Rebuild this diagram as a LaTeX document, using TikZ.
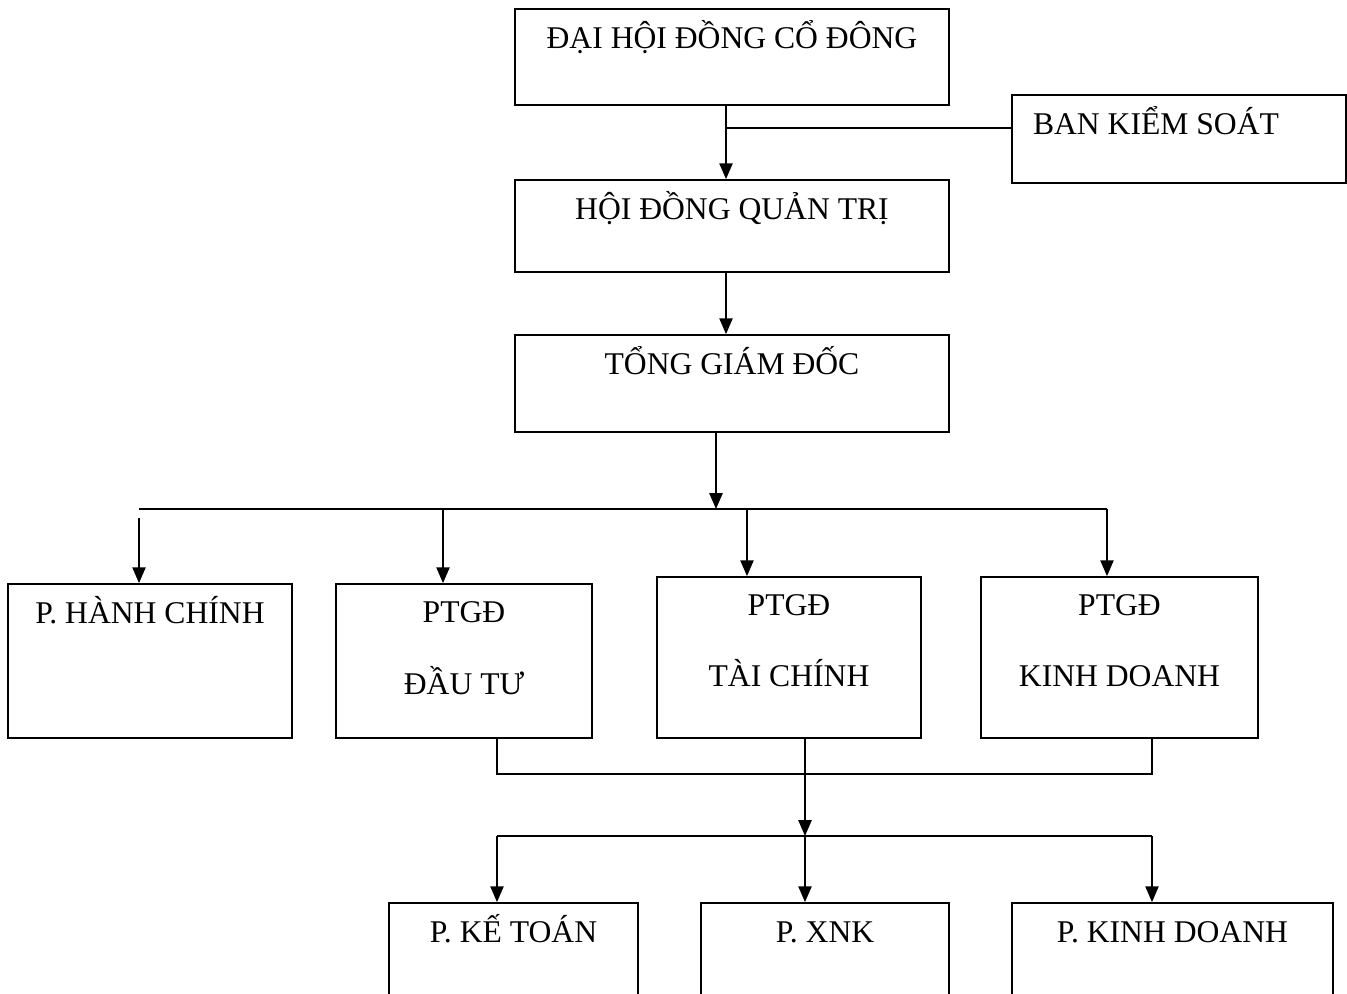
\documentclass[tikz,border=0pt]{standalone}
\usepackage{fontspec}
\setmainfont{Liberation Serif}
\usetikzlibrary{arrows.meta, calc}

\begin{document}
\begin{tikzpicture}[x=0.02cm, y=-0.02cm, line width=1pt,
    box/.style 2 args = {draw, rectangle, minimum width=#1*0.02cm, minimum height=#2*0.02cm, inner sep=0pt},
    txt/.style = {font=\fontsize{18}{22}\selectfont, inner sep=0pt, anchor=base},
    arr/.style = {-{Triangle[length=9pt, width=7.5pt]}}]
    \clip (0,0) rectangle (1347,994);

    % boxes
    \node[box={434}{96}] (dhd) at (732,57) {};
    \node[box={334}{88}] (bks) at (1179,139) {};
    \node[box={434}{92}] (hdqt) at (732,226) {};
    \node[box={434}{97}] (tgd) at (732,383.5) {};
    \node[box={284}{154}] (phc) at (150,661) {};
    \node[box={256}{154}] (ptdt) at (464,661) {};
    \node[box={264}{161}] (pttc) at (789,657.5) {};
    \node[box={277}{161}] (ptkd) at (1119.5,657.5) {};
    \node[box={249}{160}] (pkt) at (513.5,983) {};
    \node[box={248}{160}] (pxnk) at (825,983) {};
    \node[box={321}{160}] (pkd) at (1172.5,983) {};

    % texts
    \node[txt] (dhd-t) at ($(dhd.north)+(0,40)$) {ĐẠI HỘI ĐỒNG CỔ ĐÔNG};
    \node[txt, anchor=base west] (bks-t) at ($(bks.north west)+(21,40)$) {BAN KIỂM SOÁT};
    \node[txt] (hdqt-t) at ($(hdqt.north)+(0,40)$) {HỘI ĐỒNG QUẢN TRỊ};
    \node[txt] (tgd-t) at ($(tgd.north)+(0,40)$) {TỔNG GIÁM ĐỐC};
    \node[txt] (phc-t) at ($(phc.north)+(0,40)$) {P. HÀNH CHÍNH};
    \node[txt] (ptdt-t) at ($(ptdt.north)+(0,39)$) {PTGĐ};
    \node[txt] (ptdt-u) at ($(ptdt.north)+(0,111)$) {ĐẦU TƯ};
    \node[txt] (pttc-t) at ($(pttc.north)+(0,39)$) {PTGĐ};
    \node[txt] (pttc-u) at ($(pttc.north)+(0,110)$) {TÀI CHÍNH};
    \node[txt] (ptkd-t) at ($(ptkd.north)+(0,39)$) {PTGĐ};
    \node[txt] (ptkd-u) at ($(ptkd.north)+(0,110)$) {KINH DOANH};
    \node[txt] (pkt-t) at ($(pkt.north)+(0,40)$) {P. KẾ TOÁN};
    \node[txt] (pxnk-t) at ($(pxnk.north)+(0,40)$) {P. XNK};
    \node[txt] (pkd-t) at ($(pkd.north)+(0,40)$) {P. KINH DOANH};

    % top part
    \coordinate (j1) at (726,128);
    \draw (j1) -- (bks.west |- j1);
    \path[arr] (dhd.south -| j1) edge (hdqt.north -| j1);
    \path[arr] (hdqt.south -| j1) edge (tgd.north -| j1);

    % first bus
    \coordinate (b0) at (139,509);
    \coordinate (b1) at (443,509);
    \coordinate (b2) at (747,509);
    \coordinate (b3) at (1107,509);
    \coordinate (bt) at (716,509);
    \path[arr] (tgd.south -| bt) edge (bt);
    \draw (b0) -- (b3);
    \path[arr] ($(b0)+(0,9)$) edge (phc.north -| b0);
    \path[arr] (b1) edge (ptdt.north -| b1);
    \path[arr] (b2) edge (pttc.north -| b2);
    \path[arr] (b3) edge (ptkd.north -| b3);

    % second bus
    \coordinate (m1) at (497,774);
    \coordinate (m2) at (805,774);
    \coordinate (m3) at (1152,774);
    \coordinate (n1) at (497,836);
    \coordinate (n2) at (805,836);
    \coordinate (n3) at (1152,836);
    \draw (ptdt.south -| m1) -- (m1) -- (m3) -- (ptkd.south -| m3);
    \draw (pttc.south -| m2) -- (m2);
    \path[arr] (m2) edge (n2);
    \draw (n1) -- (n3);
    \path[arr] (n1) edge (pkt.north -| n1);
    \path[arr] (n2) edge (pxnk.north -| n2);
    \path[arr] (n3) edge (pkd.north -| n3);
\end{tikzpicture}
\end{document}
